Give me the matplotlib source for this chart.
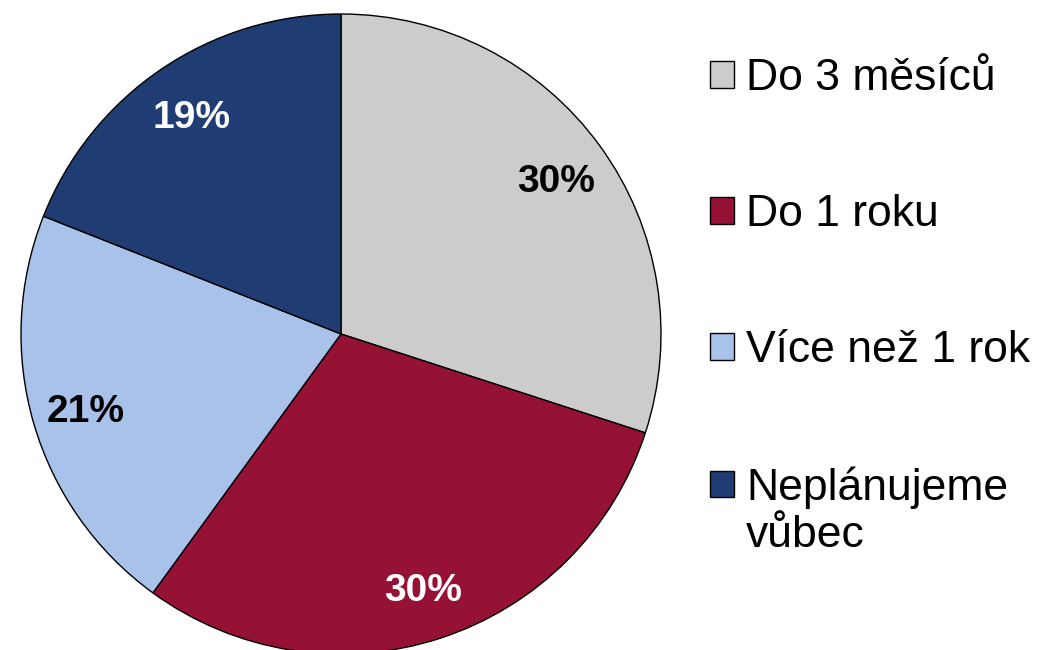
import matplotlib.pyplot as plt
from matplotlib import rc

rc('font', **{'family': ['Liberation Sans', 'DejaVu Sans']})

labels = ["Do 3 měsíců", "Do 1 roku", "Více než 1 rok", "Neplánujeme\nvůbec"]
shares = [30, 30, 21, 19]
colors = ["#CCCCCC", "#961235", "#A9C2EA", "#1F3D73"]
text_colors = ["black", "white", "black", "white"]

fig = plt.figure(figsize=(10.45, 6.5), dpi=100)
# pie fills a 640px square whose bottom edge runs slightly past the figure
ax = fig.add_axes([21 / 1045, -4 / 650, 640 / 1045, 640 / 650])
wedges, texts, autotexts = ax.pie(shares, colors=colors, startangle=90,
                                  counterclock=False, radius=1,
                                  autopct=lambda p: "{:.0f}%".format(p),
                                  pctdistance=0.83,
                                  wedgeprops=dict(edgecolor="black", linewidth=1.0))
for t, c in zip(autotexts, text_colors):
    t.set_color(c)
    t.set_fontsize(28)
    t.set_fontweight("bold")
    t.set_verticalalignment("center_baseline")
ax.set_xlim(-1.0, 1.0)
ax.set_ylim(-1.0, 1.0)
ax.set_aspect("equal")
ax.axis("off")

leg = fig.legend(wedges, labels, loc="upper left",
                 bbox_to_anchor=(710 / 1045, 1 - 58 / 650),
                 frameon=False, fontsize=32,
                 handlelength=0.54, handleheight=0.54, handletextpad=0.27,
                 labelspacing=2.14, borderpad=0, borderaxespad=0)
# keep the last swatch level with the first line of its two-line label
last = leg.legend_handles[-1]
last.set_y(last.get_y() + 20)

plt.savefig("out.png", dpi=100)
